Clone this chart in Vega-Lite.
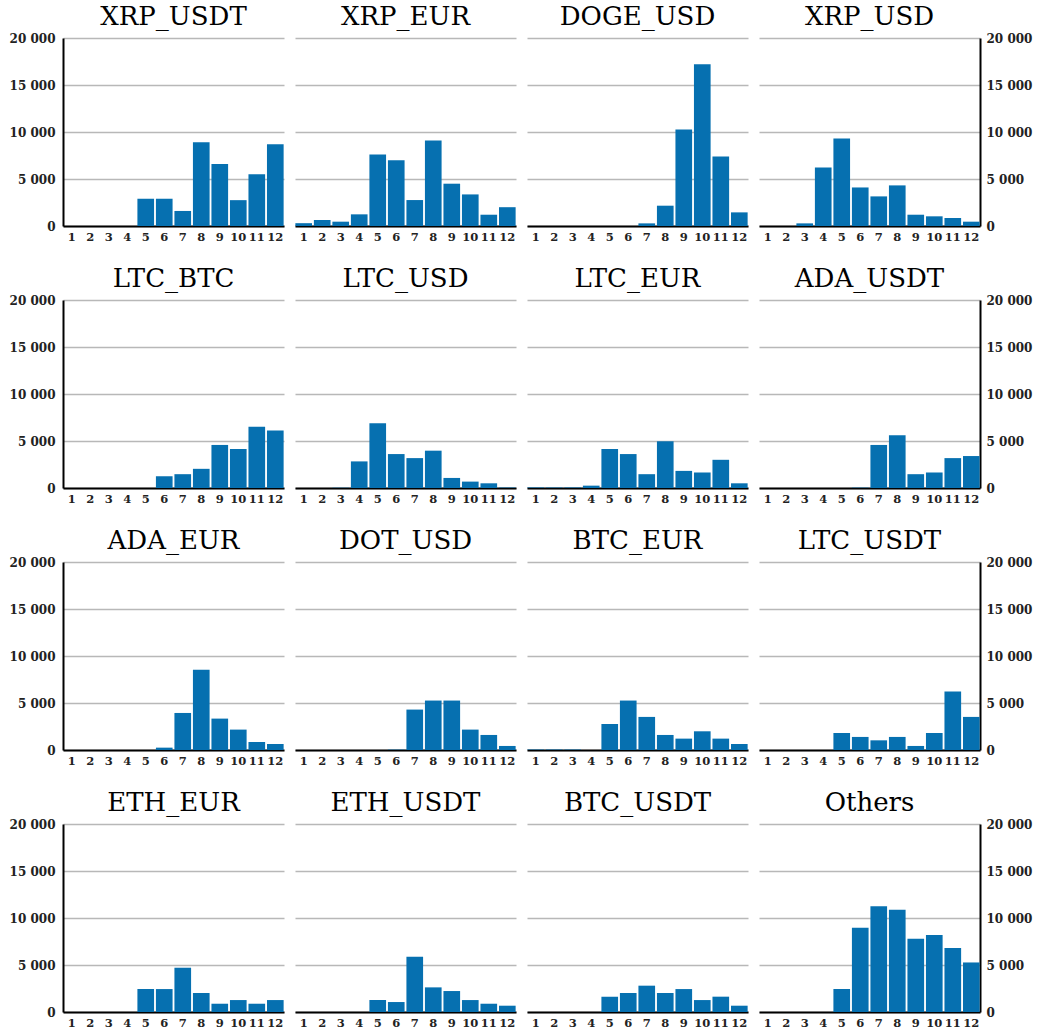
{
"$schema": "https://vega.github.io/schema/vega-lite/v6.json",
"padding": {"left": 9, "top": 4, "right": 2, "bottom": 0},
"background": "white",
"config": {
  "view": {"stroke": null},
  "title": {"font": "DejaVu Serif", "fontSize": 26, "fontWeight": "normal", "color": "black", "offset": 2},
  "axis": {"labelFont": "DejaVu Serif", "labelFontSize": 11.5, "labelFontWeight": "bold", "labelColor": "#222", "gridColor": "#b8b8b8", "gridWidth": 1.3},
  "axisY": {"labelFontSize": 12},
  "bar": {"color": "#0670b0"}
},
"spacing": {"row": 23, "column": 11},
"columns": 4,
"data": {"values": [
{"p":"XRP_USDT","m":1,"v":0},{"p":"XRP_USDT","m":2,"v":0},{"p":"XRP_USDT","m":3,"v":0},{"p":"XRP_USDT","m":4,"v":0},{"p":"XRP_USDT","m":5,"v":2900},{"p":"XRP_USDT","m":6,"v":2900},{"p":"XRP_USDT","m":7,"v":1600},{"p":"XRP_USDT","m":8,"v":8900},{"p":"XRP_USDT","m":9,"v":6600},{"p":"XRP_USDT","m":10,"v":2750},{"p":"XRP_USDT","m":11,"v":5500},{"p":"XRP_USDT","m":12,"v":8700},
{"p":"XRP_EUR","m":1,"v":300},{"p":"XRP_EUR","m":2,"v":640},{"p":"XRP_EUR","m":3,"v":460},{"p":"XRP_EUR","m":4,"v":1240},{"p":"XRP_EUR","m":5,"v":7600},{"p":"XRP_EUR","m":6,"v":7000},{"p":"XRP_EUR","m":7,"v":2760},{"p":"XRP_EUR","m":8,"v":9100},{"p":"XRP_EUR","m":9,"v":4500},{"p":"XRP_EUR","m":10,"v":3360},{"p":"XRP_EUR","m":11,"v":1200},{"p":"XRP_EUR","m":12,"v":2000},
{"p":"DOGE_USD","m":1,"v":0},{"p":"DOGE_USD","m":2,"v":0},{"p":"DOGE_USD","m":3,"v":0},{"p":"DOGE_USD","m":4,"v":0},{"p":"DOGE_USD","m":5,"v":0},{"p":"DOGE_USD","m":6,"v":0},{"p":"DOGE_USD","m":7,"v":280},{"p":"DOGE_USD","m":8,"v":2160},{"p":"DOGE_USD","m":9,"v":10270},{"p":"DOGE_USD","m":10,"v":17200},{"p":"DOGE_USD","m":11,"v":7400},{"p":"DOGE_USD","m":12,"v":1450},
{"p":"XRP_USD","m":1,"v":0},{"p":"XRP_USD","m":2,"v":0},{"p":"XRP_USD","m":3,"v":280},{"p":"XRP_USD","m":4,"v":6230},{"p":"XRP_USD","m":5,"v":9300},{"p":"XRP_USD","m":6,"v":4100},{"p":"XRP_USD","m":7,"v":3150},{"p":"XRP_USD","m":8,"v":4320},{"p":"XRP_USD","m":9,"v":1200},{"p":"XRP_USD","m":10,"v":1030},{"p":"XRP_USD","m":11,"v":850},{"p":"XRP_USD","m":12,"v":460},
{"p":"LTC_BTC","m":1,"v":0},{"p":"LTC_BTC","m":2,"v":0},{"p":"LTC_BTC","m":3,"v":0},{"p":"LTC_BTC","m":4,"v":0},{"p":"LTC_BTC","m":5,"v":0},{"p":"LTC_BTC","m":6,"v":1250},{"p":"LTC_BTC","m":7,"v":1470},{"p":"LTC_BTC","m":8,"v":2040},{"p":"LTC_BTC","m":9,"v":4580},{"p":"LTC_BTC","m":10,"v":4150},{"p":"LTC_BTC","m":11,"v":6510},{"p":"LTC_BTC","m":12,"v":6120},
{"p":"LTC_USD","m":1,"v":0},{"p":"LTC_USD","m":2,"v":0},{"p":"LTC_USD","m":3,"v":30},{"p":"LTC_USD","m":4,"v":2830},{"p":"LTC_USD","m":5,"v":6900},{"p":"LTC_USD","m":6,"v":3610},{"p":"LTC_USD","m":7,"v":3180},{"p":"LTC_USD","m":8,"v":3970},{"p":"LTC_USD","m":9,"v":1070},{"p":"LTC_USD","m":10,"v":680},{"p":"LTC_USD","m":11,"v":500},{"p":"LTC_USD","m":12,"v":50},
{"p":"LTC_EUR","m":1,"v":60},{"p":"LTC_EUR","m":2,"v":60},{"p":"LTC_EUR","m":3,"v":60},{"p":"LTC_EUR","m":4,"v":250},{"p":"LTC_EUR","m":5,"v":4150},{"p":"LTC_EUR","m":6,"v":3610},{"p":"LTC_EUR","m":7,"v":1470},{"p":"LTC_EUR","m":8,"v":4970},{"p":"LTC_EUR","m":9,"v":1820},{"p":"LTC_EUR","m":10,"v":1650},{"p":"LTC_EUR","m":11,"v":3000},{"p":"LTC_EUR","m":12,"v":500},
{"p":"ADA_USDT","m":1,"v":0},{"p":"ADA_USDT","m":2,"v":0},{"p":"ADA_USDT","m":3,"v":0},{"p":"ADA_USDT","m":4,"v":0},{"p":"ADA_USDT","m":5,"v":0},{"p":"ADA_USDT","m":6,"v":40},{"p":"ADA_USDT","m":7,"v":4580},{"p":"ADA_USDT","m":8,"v":5620},{"p":"ADA_USDT","m":9,"v":1470},{"p":"ADA_USDT","m":10,"v":1650},{"p":"ADA_USDT","m":11,"v":3180},{"p":"ADA_USDT","m":12,"v":3400},
{"p":"ADA_EUR","m":1,"v":0},{"p":"ADA_EUR","m":2,"v":0},{"p":"ADA_EUR","m":3,"v":0},{"p":"ADA_EUR","m":4,"v":0},{"p":"ADA_EUR","m":5,"v":0},{"p":"ADA_EUR","m":6,"v":250},{"p":"ADA_EUR","m":7,"v":3940},{"p":"ADA_EUR","m":8,"v":8530},{"p":"ADA_EUR","m":9,"v":3340},{"p":"ADA_EUR","m":10,"v":2170},{"p":"ADA_EUR","m":11,"v":850},{"p":"ADA_EUR","m":12,"v":640},
{"p":"DOT_USD","m":1,"v":0},{"p":"DOT_USD","m":2,"v":0},{"p":"DOT_USD","m":3,"v":0},{"p":"DOT_USD","m":4,"v":0},{"p":"DOT_USD","m":5,"v":0},{"p":"DOT_USD","m":6,"v":40},{"p":"DOT_USD","m":7,"v":4300},{"p":"DOT_USD","m":8,"v":5260},{"p":"DOT_USD","m":9,"v":5260},{"p":"DOT_USD","m":10,"v":2170},{"p":"DOT_USD","m":11,"v":1600},{"p":"DOT_USD","m":12,"v":430},
{"p":"BTC_EUR","m":1,"v":50},{"p":"BTC_EUR","m":2,"v":50},{"p":"BTC_EUR","m":3,"v":50},{"p":"BTC_EUR","m":4,"v":0},{"p":"BTC_EUR","m":5,"v":2770},{"p":"BTC_EUR","m":6,"v":5260},{"p":"BTC_EUR","m":7,"v":3520},{"p":"BTC_EUR","m":8,"v":1600},{"p":"BTC_EUR","m":9,"v":1210},{"p":"BTC_EUR","m":10,"v":1990},{"p":"BTC_EUR","m":11,"v":1210},{"p":"BTC_EUR","m":12,"v":640},
{"p":"LTC_USDT","m":1,"v":0},{"p":"LTC_USDT","m":2,"v":0},{"p":"LTC_USDT","m":3,"v":0},{"p":"LTC_USDT","m":4,"v":0},{"p":"LTC_USDT","m":5,"v":1810},{"p":"LTC_USDT","m":6,"v":1390},{"p":"LTC_USDT","m":7,"v":1030},{"p":"LTC_USDT","m":8,"v":1390},{"p":"LTC_USDT","m":9,"v":430},{"p":"LTC_USDT","m":10,"v":1810},{"p":"LTC_USDT","m":11,"v":6220},{"p":"LTC_USDT","m":12,"v":3520},
{"p":"ETH_EUR","m":1,"v":0},{"p":"ETH_EUR","m":2,"v":0},{"p":"ETH_EUR","m":3,"v":0},{"p":"ETH_EUR","m":4,"v":0},{"p":"ETH_EUR","m":5,"v":2440},{"p":"ETH_EUR","m":6,"v":2440},{"p":"ETH_EUR","m":7,"v":4710},{"p":"ETH_EUR","m":8,"v":2020},{"p":"ETH_EUR","m":9,"v":880},{"p":"ETH_EUR","m":10,"v":1270},{"p":"ETH_EUR","m":11,"v":880},{"p":"ETH_EUR","m":12,"v":1270},
{"p":"ETH_USDT","m":1,"v":0},{"p":"ETH_USDT","m":2,"v":0},{"p":"ETH_USDT","m":3,"v":0},{"p":"ETH_USDT","m":4,"v":0},{"p":"ETH_USDT","m":5,"v":1270},{"p":"ETH_USDT","m":6,"v":1060},{"p":"ETH_USDT","m":7,"v":5880},{"p":"ETH_USDT","m":8,"v":2620},{"p":"ETH_USDT","m":9,"v":2230},{"p":"ETH_USDT","m":10,"v":1270},{"p":"ETH_USDT","m":11,"v":880},{"p":"ETH_USDT","m":12,"v":670},
{"p":"BTC_USDT","m":1,"v":0},{"p":"BTC_USDT","m":2,"v":0},{"p":"BTC_USDT","m":3,"v":0},{"p":"BTC_USDT","m":4,"v":0},{"p":"BTC_USDT","m":5,"v":1630},{"p":"BTC_USDT","m":6,"v":2020},{"p":"BTC_USDT","m":7,"v":2800},{"p":"BTC_USDT","m":8,"v":2020},{"p":"BTC_USDT","m":9,"v":2440},{"p":"BTC_USDT","m":10,"v":1270},{"p":"BTC_USDT","m":11,"v":1630},{"p":"BTC_USDT","m":12,"v":670},
{"p":"Others","m":1,"v":0},{"p":"Others","m":2,"v":0},{"p":"Others","m":3,"v":0},{"p":"Others","m":4,"v":0},{"p":"Others","m":5,"v":2440},{"p":"Others","m":6,"v":8960},{"p":"Others","m":7,"v":11260},{"p":"Others","m":8,"v":10870},{"p":"Others","m":9,"v":7790},{"p":"Others","m":10,"v":8180},{"p":"Others","m":11,"v":6800},{"p":"Others","m":12,"v":5270}
]},
"concat": [
{"title":"XRP_USDT","width":221,"height":188,"transform":[{"filter":"datum.p==='XRP_USDT'"}],"mark":"bar","encoding":{"x":{"field":"m","type":"ordinal","scale":{"paddingInner":0.1,"paddingOuter":0.02},"axis":{"title":null,"labelAngle":0,"ticks":false,"domainColor":"black","domainWidth":2,"labelPadding":5}},"y":{"field":"v","type":"quantitative","scale":{"domain":[0,20000]},"axis":{"orient":"left","title":null,"values":[0,5000,10000,15000,20000],"labelExpr":"replace(format(datum.value, ','), ',', ' ')","domainColor":"black","domainWidth":2,"ticks":false,"labelPadding":8}}}},
{"title":"XRP_EUR","width":221,"height":188,"transform":[{"filter":"datum.p==='XRP_EUR'"}],"mark":"bar","encoding":{"x":{"field":"m","type":"ordinal","scale":{"paddingInner":0.1,"paddingOuter":0.02},"axis":{"title":null,"labelAngle":0,"ticks":false,"domainColor":"black","domainWidth":2,"labelPadding":5}},"y":{"field":"v","type":"quantitative","scale":{"domain":[0,20000]},"axis":{"title":null,"values":[0,5000,10000,15000,20000],"labelExpr":"' '","labelPadding":0,"domain":false,"ticks":false}}}},
{"title":"DOGE_USD","width":221,"height":188,"transform":[{"filter":"datum.p==='DOGE_USD'"}],"mark":"bar","encoding":{"x":{"field":"m","type":"ordinal","scale":{"paddingInner":0.1,"paddingOuter":0.02},"axis":{"title":null,"labelAngle":0,"ticks":false,"domainColor":"black","domainWidth":2,"labelPadding":5}},"y":{"field":"v","type":"quantitative","scale":{"domain":[0,20000]},"axis":{"title":null,"values":[0,5000,10000,15000,20000],"labelExpr":"' '","labelPadding":0,"domain":false,"ticks":false}}}},
{"title":"XRP_USD","width":221,"height":188,"transform":[{"filter":"datum.p==='XRP_USD'"}],"mark":"bar","encoding":{"x":{"field":"m","type":"ordinal","scale":{"paddingInner":0.1,"paddingOuter":0.02},"axis":{"title":null,"labelAngle":0,"ticks":false,"domainColor":"black","domainWidth":2,"labelPadding":5}},"y":{"field":"v","type":"quantitative","scale":{"domain":[0,20000]},"axis":{"orient":"right","title":null,"values":[0,5000,10000,15000,20000],"labelExpr":"replace(format(datum.value, ','), ',', ' ')","domainColor":"black","domainWidth":2,"ticks":false,"labelPadding":6}}}},
{"title":"LTC_BTC","width":221,"height":188,"transform":[{"filter":"datum.p==='LTC_BTC'"}],"mark":"bar","encoding":{"x":{"field":"m","type":"ordinal","scale":{"paddingInner":0.1,"paddingOuter":0.02},"axis":{"title":null,"labelAngle":0,"ticks":false,"domainColor":"black","domainWidth":2,"labelPadding":5}},"y":{"field":"v","type":"quantitative","scale":{"domain":[0,20000]},"axis":{"orient":"left","title":null,"values":[0,5000,10000,15000,20000],"labelExpr":"replace(format(datum.value, ','), ',', ' ')","domainColor":"black","domainWidth":2,"ticks":false,"labelPadding":8}}}},
{"title":"LTC_USD","width":221,"height":188,"transform":[{"filter":"datum.p==='LTC_USD'"}],"mark":"bar","encoding":{"x":{"field":"m","type":"ordinal","scale":{"paddingInner":0.1,"paddingOuter":0.02},"axis":{"title":null,"labelAngle":0,"ticks":false,"domainColor":"black","domainWidth":2,"labelPadding":5}},"y":{"field":"v","type":"quantitative","scale":{"domain":[0,20000]},"axis":{"title":null,"values":[0,5000,10000,15000,20000],"labelExpr":"' '","labelPadding":0,"domain":false,"ticks":false}}}},
{"title":"LTC_EUR","width":221,"height":188,"transform":[{"filter":"datum.p==='LTC_EUR'"}],"mark":"bar","encoding":{"x":{"field":"m","type":"ordinal","scale":{"paddingInner":0.1,"paddingOuter":0.02},"axis":{"title":null,"labelAngle":0,"ticks":false,"domainColor":"black","domainWidth":2,"labelPadding":5}},"y":{"field":"v","type":"quantitative","scale":{"domain":[0,20000]},"axis":{"title":null,"values":[0,5000,10000,15000,20000],"labelExpr":"' '","labelPadding":0,"domain":false,"ticks":false}}}},
{"title":"ADA_USDT","width":221,"height":188,"transform":[{"filter":"datum.p==='ADA_USDT'"}],"mark":"bar","encoding":{"x":{"field":"m","type":"ordinal","scale":{"paddingInner":0.1,"paddingOuter":0.02},"axis":{"title":null,"labelAngle":0,"ticks":false,"domainColor":"black","domainWidth":2,"labelPadding":5}},"y":{"field":"v","type":"quantitative","scale":{"domain":[0,20000]},"axis":{"orient":"right","title":null,"values":[0,5000,10000,15000,20000],"labelExpr":"replace(format(datum.value, ','), ',', ' ')","domainColor":"black","domainWidth":2,"ticks":false,"labelPadding":6}}}},
{"title":"ADA_EUR","width":221,"height":188,"transform":[{"filter":"datum.p==='ADA_EUR'"}],"mark":"bar","encoding":{"x":{"field":"m","type":"ordinal","scale":{"paddingInner":0.1,"paddingOuter":0.02},"axis":{"title":null,"labelAngle":0,"ticks":false,"domainColor":"black","domainWidth":2,"labelPadding":5}},"y":{"field":"v","type":"quantitative","scale":{"domain":[0,20000]},"axis":{"orient":"left","title":null,"values":[0,5000,10000,15000,20000],"labelExpr":"replace(format(datum.value, ','), ',', ' ')","domainColor":"black","domainWidth":2,"ticks":false,"labelPadding":8}}}},
{"title":"DOT_USD","width":221,"height":188,"transform":[{"filter":"datum.p==='DOT_USD'"}],"mark":"bar","encoding":{"x":{"field":"m","type":"ordinal","scale":{"paddingInner":0.1,"paddingOuter":0.02},"axis":{"title":null,"labelAngle":0,"ticks":false,"domainColor":"black","domainWidth":2,"labelPadding":5}},"y":{"field":"v","type":"quantitative","scale":{"domain":[0,20000]},"axis":{"title":null,"values":[0,5000,10000,15000,20000],"labelExpr":"' '","labelPadding":0,"domain":false,"ticks":false}}}},
{"title":"BTC_EUR","width":221,"height":188,"transform":[{"filter":"datum.p==='BTC_EUR'"}],"mark":"bar","encoding":{"x":{"field":"m","type":"ordinal","scale":{"paddingInner":0.1,"paddingOuter":0.02},"axis":{"title":null,"labelAngle":0,"ticks":false,"domainColor":"black","domainWidth":2,"labelPadding":5}},"y":{"field":"v","type":"quantitative","scale":{"domain":[0,20000]},"axis":{"title":null,"values":[0,5000,10000,15000,20000],"labelExpr":"' '","labelPadding":0,"domain":false,"ticks":false}}}},
{"title":"LTC_USDT","width":221,"height":188,"transform":[{"filter":"datum.p==='LTC_USDT'"}],"mark":"bar","encoding":{"x":{"field":"m","type":"ordinal","scale":{"paddingInner":0.1,"paddingOuter":0.02},"axis":{"title":null,"labelAngle":0,"ticks":false,"domainColor":"black","domainWidth":2,"labelPadding":5}},"y":{"field":"v","type":"quantitative","scale":{"domain":[0,20000]},"axis":{"orient":"right","title":null,"values":[0,5000,10000,15000,20000],"labelExpr":"replace(format(datum.value, ','), ',', ' ')","domainColor":"black","domainWidth":2,"ticks":false,"labelPadding":6}}}},
{"title":"ETH_EUR","width":221,"height":188,"transform":[{"filter":"datum.p==='ETH_EUR'"}],"mark":"bar","encoding":{"x":{"field":"m","type":"ordinal","scale":{"paddingInner":0.1,"paddingOuter":0.02},"axis":{"title":null,"labelAngle":0,"ticks":false,"domainColor":"black","domainWidth":2,"labelPadding":5}},"y":{"field":"v","type":"quantitative","scale":{"domain":[0,20000]},"axis":{"orient":"left","title":null,"values":[0,5000,10000,15000,20000],"labelExpr":"replace(format(datum.value, ','), ',', ' ')","domainColor":"black","domainWidth":2,"ticks":false,"labelPadding":8}}}},
{"title":"ETH_USDT","width":221,"height":188,"transform":[{"filter":"datum.p==='ETH_USDT'"}],"mark":"bar","encoding":{"x":{"field":"m","type":"ordinal","scale":{"paddingInner":0.1,"paddingOuter":0.02},"axis":{"title":null,"labelAngle":0,"ticks":false,"domainColor":"black","domainWidth":2,"labelPadding":5}},"y":{"field":"v","type":"quantitative","scale":{"domain":[0,20000]},"axis":{"title":null,"values":[0,5000,10000,15000,20000],"labelExpr":"' '","labelPadding":0,"domain":false,"ticks":false}}}},
{"title":"BTC_USDT","width":221,"height":188,"transform":[{"filter":"datum.p==='BTC_USDT'"}],"mark":"bar","encoding":{"x":{"field":"m","type":"ordinal","scale":{"paddingInner":0.1,"paddingOuter":0.02},"axis":{"title":null,"labelAngle":0,"ticks":false,"domainColor":"black","domainWidth":2,"labelPadding":5}},"y":{"field":"v","type":"quantitative","scale":{"domain":[0,20000]},"axis":{"title":null,"values":[0,5000,10000,15000,20000],"labelExpr":"' '","labelPadding":0,"domain":false,"ticks":false}}}},
{"title":"Others","width":221,"height":188,"transform":[{"filter":"datum.p==='Others'"}],"mark":"bar","encoding":{"x":{"field":"m","type":"ordinal","scale":{"paddingInner":0.1,"paddingOuter":0.02},"axis":{"title":null,"labelAngle":0,"ticks":false,"domainColor":"black","domainWidth":2,"labelPadding":5}},"y":{"field":"v","type":"quantitative","scale":{"domain":[0,20000]},"axis":{"orient":"right","title":null,"values":[0,5000,10000,15000,20000],"labelExpr":"replace(format(datum.value, ','), ',', ' ')","domainColor":"black","domainWidth":2,"ticks":false,"labelPadding":6}}}}
]
}
